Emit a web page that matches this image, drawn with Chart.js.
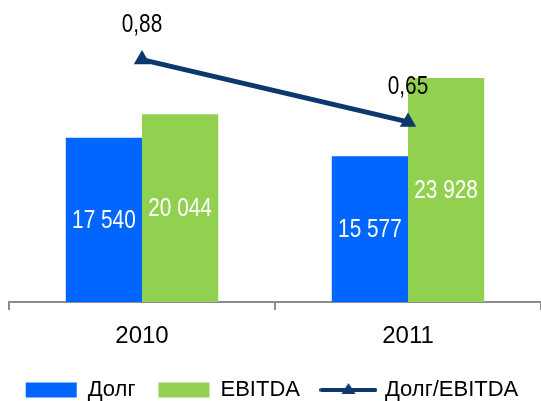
<!DOCTYPE html>
<html>
<head>
<meta charset="utf-8">
<script src="https://cdn.jsdelivr.net/npm/chart.js@4.4.1/dist/chart.umd.min.js"></script>
<style>
    html, body { margin: 0; padding: 0; background: #fff; }
    #wrap { width: 541px; height: 401px; }
</style>
</head>
<body>
<div id="wrap"><canvas id="chart"></canvas></div>
<script>
const years = ['2010', '2011'];
const debt = [17540, 15577];
const ebitda = [20044, 23928];
const debtToEbitda = [0.88, 0.65];
const seriesNames = ['Долг', 'EBITDA', 'Долг/EBITDA'];

const BLUE = '#0066ff';
const GREEN = '#92d050';
const NAVY = '#0c386c';
const AXIS_GRAY = '#8c8c8c';
const FONT = '"Liberation Sans", Arial, sans-serif';

function fmtThousands(v) {
    return String(v).replace(/\B(?=(\d{3})+(?!\d))/g, ' ');
}

function fmtRatio(v) {
    return v.toFixed(2).replace('.', ',');
}

// legend swatch for the ratio line: a short line with a triangle on it
function makeLineSwatch() {
    const c = document.createElement('canvas');
    c.width = 58;
    c.height = 16;
    const g = c.getContext('2d');
    g.strokeStyle = NAVY;
    g.lineWidth = 4;
    g.lineCap = 'round';
    g.beginPath();
    g.moveTo(2, 8);
    g.lineTo(56, 8);
    g.stroke();
    g.fillStyle = NAVY;
    g.beginPath();
    g.moveTo(29, 1);
    g.lineTo(36, 12);
    g.lineTo(22, 12);
    g.closePath();
    g.fill();
    return c;
}
const lineSwatch = makeLineSwatch();

// condensed-looking label: squeeze the text horizontally
function narrowText(ctx, text, x, y) {
    ctx.save();
    ctx.translate(x, y);
    ctx.scale(0.8, 1);
    ctx.fillText(text, 0, 0);
    ctx.restore();
}

const valueLabels = {
    id: 'valueLabels',
    afterDatasetsDraw(chart) {
        const ctx = chart.ctx;
        ctx.save();
        ctx.textAlign = 'center';
        ctx.textBaseline = 'middle';
        ctx.font = '26px ' + FONT;
        ctx.fillStyle = '#fff';
        [0, 1].forEach(di => {
            chart.getDatasetMeta(di).data.forEach((bar, i) => {
                narrowText(ctx, fmtThousands(chart.data.datasets[di].data[i]),
                    bar.x, (bar.y + bar.base) / 2 + 1);
            });
        });
        ctx.fillStyle = '#000';
        chart.getDatasetMeta(2).data.forEach((pt, i) => {
            narrowText(ctx, fmtRatio(debtToEbitda[i]), pt.x, pt.y - 35);
        });
        ctx.restore();
    }
};

const hiddenAxis = {
    grid: { display: false },
    border: { display: false },
    ticks: { display: false }
};

new Chart(document.getElementById('chart'), {
    type: 'bar',
    data: {
        labels: years,
        datasets: [
            {
                label: seriesNames[0],
                data: debt,
                backgroundColor: BLUE,
                borderWidth: 0,
                barPercentage: 1,
                categoryPercentage: 0.573,
                order: 1
            },
            {
                label: seriesNames[1],
                data: ebitda,
                backgroundColor: GREEN,
                borderWidth: 0,
                barPercentage: 1,
                categoryPercentage: 0.573,
                order: 1
            },
            {
                type: 'line',
                label: seriesNames[2],
                data: debtToEbitda,
                yAxisID: 'y1',
                borderColor: NAVY,
                backgroundColor: NAVY,
                borderWidth: 5,
                tension: 0,
                pointStyle: 'triangle',
                pointRadius: 9.5,
                pointBorderWidth: 0,
                pointBackgroundColor: NAVY,
                order: 0
            }
        ]
    },
    options: {
        responsive: true,
        maintainAspectRatio: false,
        animation: false,
        // the plot runs a little past the right edge of the picture
        layout: { padding: { left: 0, top: 0, bottom: 0, right: -3 }, autoPadding: false },
        plugins: {
            tooltip: { enabled: false },
            legend: {
                position: 'bottom',
                maxHeight: 45,
                labels: {
                    usePointStyle: true,
                    pointStyleWidth: 51,
                    boxHeight: 15,
                    padding: 23,
                    color: '#000',
                    font: { family: FONT, size: 22 },
                    generateLabels(chart) {
                        const items = Chart.defaults.plugins.legend.labels.generateLabels(chart);
                        items.sort((a, b) => a.datasetIndex - b.datasetIndex);
                        items.forEach(it => {
                            it.pointStyle = it.datasetIndex === 2 ? lineSwatch : 'rect';
                            it.lineWidth = 0;
                        });
                        return items;
                    }
                }
            }
        },
        scales: {
            x: {
                offset: true,
                grid: {
                    display: true,
                    drawOnChartArea: false,
                    drawTicks: true,
                    tickLength: 8,
                    lineWidth: 2,
                    offset: true,
                    color: AXIS_GRAY
                },
                border: { display: true, color: AXIS_GRAY, width: 2 },
                ticks: {
                    color: '#000',
                    font: { family: FONT, size: 24 },
                    padding: 12
                },
                afterFit: s => { s.height = 54; }
            },
            y: {
                position: 'left',
                min: 0,
                max: 32250,
                ...hiddenAxis,
                afterFit: s => { s.width = 9; }
            },
            y1: {
                position: 'right',
                display: false,
                min: -0.015,
                max: 1.1
            }
        }
    },
    plugins: [valueLabels]
});
</script>
</body>
</html>
